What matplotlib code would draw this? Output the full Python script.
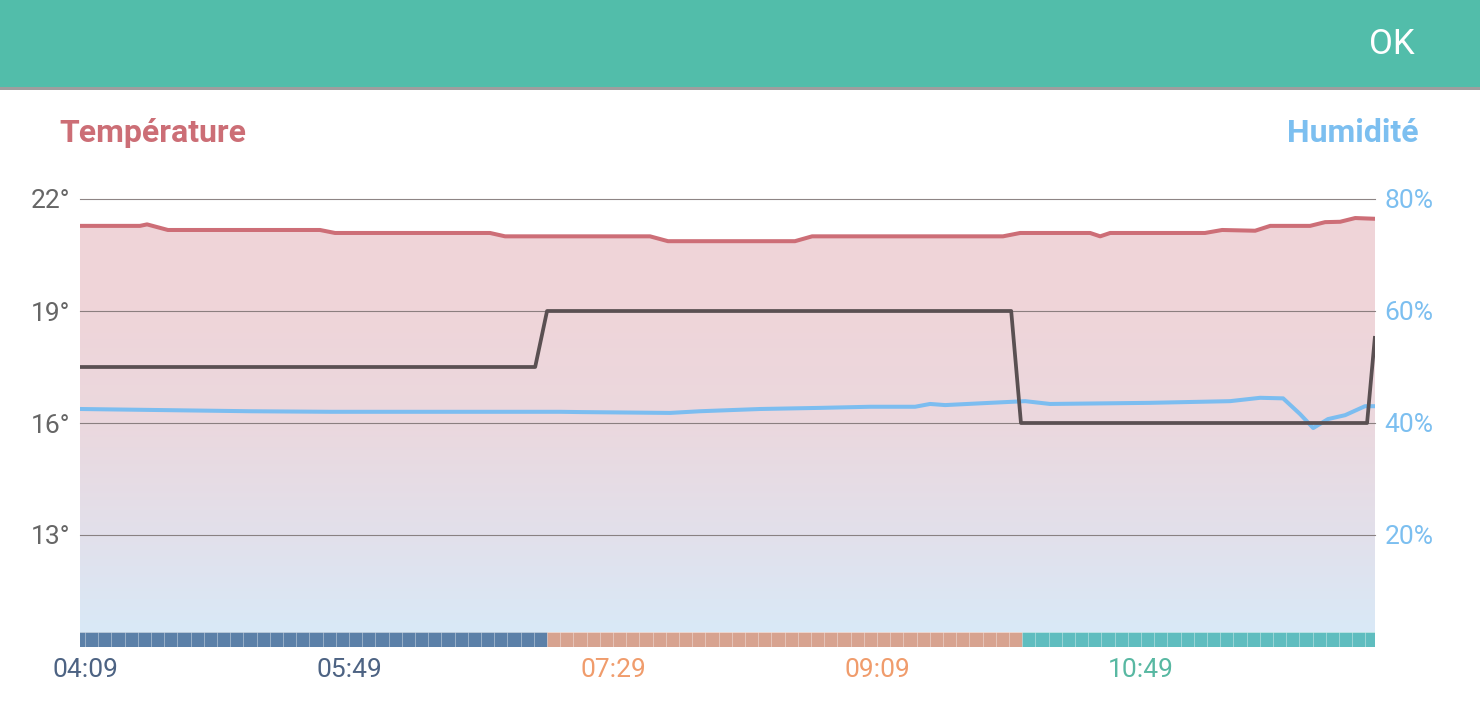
import matplotlib
matplotlib.use("Agg")
import matplotlib.pyplot as plt
import numpy as np
from matplotlib.colors import LinearSegmentedColormap
from matplotlib.patches import Rectangle, PathPatch

plt.rcParams['font.family'] = ['Roboto', 'DejaVu Sans']

# ---- data (time in minutes since midnight) ----
temp_t = [247.1, 269.8, 272.5, 280.4, 338.0, 343.7, 402.4, 408.1, 463.0, 469.8,
          517.9, 524.4, 596.7, 603.2, 629.7, 633.5, 637.3, 673.2, 679.7, 692.2,
          697.9, 713.0, 718.7, 724.4, 730.1, 737.6]
temp_v = [21.28, 21.28, 21.32, 21.17, 21.17, 21.09, 21.09, 21.0, 21.0, 20.87,
          20.87, 21.0, 21.0, 21.09, 21.09, 21.0, 21.09, 21.09, 21.17, 21.15,
          21.28, 21.28, 21.38, 21.39, 21.49, 21.47]

hum_t = [247.1, 279.3, 311.5, 341.8, 428.9, 436.5, 470.6, 481.95, 504.7, 527.4,
         546.4, 563.4, 569.1, 574.8, 591.8, 605.1, 614.5, 652.4, 682.7, 694.1,
         702.8, 709.2, 714.2, 719.8, 726.3, 733.8, 737.6]
hum_v = [42.5, 42.3, 42.1, 42.0, 42.0, 41.95, 41.8, 42.1, 42.5, 42.7,
         42.9, 42.9, 43.4, 43.2, 43.6, 43.9, 43.4, 43.6, 43.9, 44.5,
         44.4, 41.6, 39.1, 40.7, 41.4, 43.0, 43.0]

setpoint_t = [247.1, 419.5, 424.0, 599.8, 603.5, 734.6, 737.6]
setpoint_v = [17.5, 17.5, 19.0, 19.0, 16.0, 16.0, 18.33]

# mode band segments (start, end, colour)
band_start = [249 - 5, 424, 604]
band_end = [424, 604, 739]
band_colors = ['#5b80a8', '#d7a390', '#5fbdbf']
cell_minutes = 5

xtick_pos = [249, 349, 449, 549, 649]
xtick_labels = ['04:09', '05:49', '07:29', '09:09', '10:49']
xtick_colors = ['#4d6383', '#4d6383', '#f09c6c', '#f09c6c', '#58b8a2']

temp_ticks = [13, 16, 19, 22]
temp_tick_labels = ['13°', '16°', '19°', '22°']
hum_ticks = [20, 40, 60, 80]
hum_tick_labels = ['20%', '40%', '60%', '80%']

X0, X1 = 247.1, 737.6
BAND_TOP = 10.4

W, H = 1480, 720
fig = plt.figure(figsize=(W / 100, H / 100), dpi=100)
fig.patch.set_facecolor('white')

# header bar
fig.patches.append(Rectangle((0, 1 - 87 / H), 1, 87 / H, transform=fig.transFigure,
                             facecolor='#52bdaa', edgecolor='none', zorder=0))
fig.patches.append(Rectangle((0, 1 - 90 / H), 1, 3 / H, transform=fig.transFigure,
                             facecolor='#9e9e9e', edgecolor='none', zorder=0))
fig.text(1392 / W, 1 - 45 / H, 'OK', color='white', fontsize=25, ha='center', va='center')

fig.text(59 / W, 1 - 133 / H, 'Température', color='#cc6e76', fontsize=23,
         fontweight='bold', ha='left', va='center')
fig.text(1419 / W, 1 - 133 / H, 'Humidité', color='#7cbff0', fontsize=23,
         fontweight='bold', ha='right', va='center')

ax = fig.add_axes([80 / W, 73 / H, 1295 / W, 448 / H])
ax.set_xlim(X0, X1)
ax.set_ylim(10, 22)
for s in ax.spines.values():
    s.set_visible(False)

# gradient fill under temperature
poly = ax.fill_between(temp_t, temp_v, BAND_TOP, facecolor='none', edgecolor='none')
cmap = LinearSegmentedColormap.from_list('g', [
    (0.0, '#d9e9f7'),
    ((13 - BAND_TOP) / (22 - BAND_TOP), '#e2e0eb'),
    ((16 - BAND_TOP) / (22 - BAND_TOP), '#ebd8de'),
    ((19 - BAND_TOP) / (22 - BAND_TOP), '#efd5d9'),
    (1.0, '#f0d4d8')])
grad = np.linspace(0, 1, 256).reshape(-1, 1)
im = ax.imshow(grad, cmap=cmap, origin='lower', aspect='auto',
               extent=(X0, X1, BAND_TOP, 22), zorder=1)
clip = PathPatch(poly.get_paths()[0], transform=ax.transData,
                 facecolor='none', edgecolor='none')
ax.add_patch(clip)
im.set_clip_path(clip)
ax.set_xlim(X0, X1)
ax.set_ylim(10, 22)

# grid lines
for yv in temp_ticks:
    ax.axhline(yv, color='#7a7070', lw=0.8, alpha=0.85, zorder=2, clip_on=False)

# mode band, one cell per 5 minutes
for s, e, c in zip(band_start, band_end, band_colors):
    lefts = np.arange(s, e, cell_minutes)
    ax.bar(lefts, BAND_TOP - 10, width=cell_minutes, bottom=10, align='edge',
           color=c, edgecolor=(1, 1, 1, 0.13), linewidth=0.7, zorder=3, clip_on=True)

ax.plot(temp_t, temp_v, color='#cd6e77', lw=2.9, solid_joinstyle='round',
        solid_capstyle='butt', zorder=5)

ax.set_yticks(temp_ticks)
ax.set_yticklabels(temp_tick_labels)
ax.tick_params(axis='y', length=0, pad=7, labelsize=19, labelcolor='#666666')
ax.set_xticks(xtick_pos)
ax.set_xticklabels(xtick_labels)
ax.tick_params(axis='x', length=0, pad=8, labelsize=19)
for lbl, c in zip(ax.get_xticklabels(), xtick_colors):
    lbl.set_color(c)

ax2 = ax.twinx()
ax2.set_ylim(0, 80)
ax2.set_xlim(X0, X1)
for s in ax2.spines.values():
    s.set_visible(False)
ax2.plot(hum_t, hum_v, color='#7cbdf0', lw=2.9, solid_joinstyle='round',
         solid_capstyle='butt', zorder=5)
# setpoint on temperature scale, drawn above humidity
ax3 = ax.twinx()
ax3.set_ylim(10, 22)
ax3.set_xlim(X0, X1)
ax3.axis('off')
ax3.plot(setpoint_t, setpoint_v, color='#5a5052', lw=2.7, solid_joinstyle='round',
         solid_capstyle='butt', zorder=6)

ax2.set_yticks(hum_ticks)
ax2.set_yticklabels(hum_tick_labels)
ax2.tick_params(axis='y', length=0, pad=7, labelsize=19, labelcolor='#7cbff0')

fig.savefig('out.png', dpi=100, facecolor='white')
